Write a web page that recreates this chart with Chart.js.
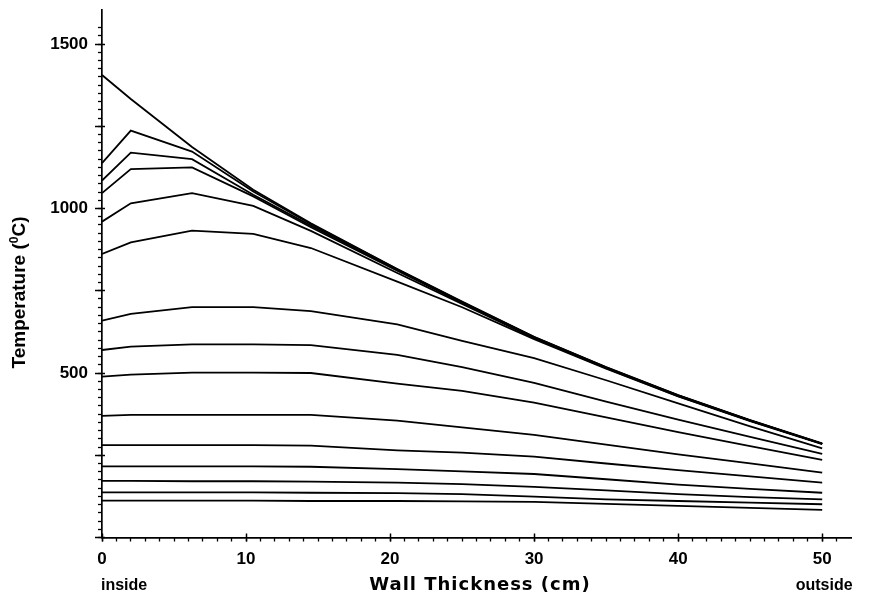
<!DOCTYPE html>
<html><head><meta charset="utf-8">
<script src="https://cdn.jsdelivr.net/npm/chart.js@4.4.0/dist/chart.umd.min.js"></script>
<style>html,body{margin:0;padding:0;background:#fff;}#c{display:block;}</style>
</head><body>
<canvas id="c" width="870" height="600"></canvas>
<script>
// ---- data ----
const wallThickness = [0, 2, 6.25, 10.5, 14.5, 20.5, 25, 30, 35, 40, 45, 50];
const profile01 = [1406, 1333, 1187, 1057, 955, 816, 717, 610, 518, 433, 357, 286];
const profile02 = [1138, 1237, 1173, 1052, 953, 815, 716, 609, 517, 432, 356, 285];
const profile03 = [1085, 1170, 1150, 1042, 948, 813, 715, 608, 516, 431, 355, 285];
const profile04 = [1047, 1120, 1125, 1037, 943, 811, 714, 608, 516, 431, 355, 285];
const profile05 = [960, 1016, 1047, 1008, 932, 804, 710, 606, 515, 430, 355, 285];
const profile06 = [862, 897, 933, 923, 880, 778, 700, 603, 513, 429, 354, 284];
const profile07 = [659, 680, 700, 700, 688, 648, 598, 545, 478, 408, 338, 271];
const profile08 = [570, 580, 587, 587, 585, 555, 518, 470, 413, 358, 306, 254];
const profile09 = [489, 495, 501, 501, 500, 468, 446, 410, 365, 320, 278, 236];
const profile10 = [370, 373, 373, 373, 373, 355, 335, 312, 282, 253, 225, 197];
const profile11 = [281, 281, 281, 281, 279, 265, 258, 246, 225, 205, 186, 167];
const profile12 = [216, 216, 216, 216, 215, 208, 201, 193, 177, 161, 148, 136];
const profile13 = [172, 172, 171, 171, 170, 167, 162, 154, 143, 132, 123, 116];
const profile14 = [137, 137, 137, 137, 136, 135, 132, 124, 116, 111, 106, 101];
const profile15 = [112, 112, 112, 112, 111, 111, 110, 108, 102, 96, 90, 84];
const xTickLabels = [0, 10, 20, 30, 40, 50];
const yTickLabels = [500, 1000, 1500];
const edgeLabels = ['inside', 'outside'];
const xTitle = 'Wall Thickness (cm)';
const yTitleParts = ['Temperature (', '0', 'C)'];

const profiles = [profile01, profile02, profile03, profile04, profile05, profile06, profile07,
  profile08, profile09, profile10, profile11, profile12, profile13, profile14, profile15];

const FONT = '"Liberation Sans", Arial, sans-serif';
const WIDE = '"DejaVu Sans", sans-serif';

const datasets = profiles.map((p, i) => ({
  label: 'Profile ' + (i + 1),
  data: wallThickness.map((x, j) => ({x: x, y: p[j]})),
  borderColor: '#000',
  borderWidth: 1.8,
  pointRadius: 0,
  tension: 0,
  fill: false
}));

const extraText = {
  id: 'extraText',
  afterDraw(chart) {
    const ctx = chart.ctx;
    const xs = chart.scales.x;
    ctx.save();
    ctx.fillStyle = '#000';
    ctx.font = 'bold 16px ' + FONT;
    ctx.textBaseline = 'alphabetic';
    ctx.textAlign = 'left';
    ctx.fillText(edgeLabels[0], xs.getPixelForValue(0) - 1, 590);
    ctx.textAlign = 'center';
    ctx.fillText(edgeLabels[1], xs.getPixelForValue(50) + 2, 590);
    // x axis title
    ctx.font = 'bold 18px ' + WIDE;
    ctx.letterSpacing = '1px';
    ctx.textAlign = 'left';
    const tw = ctx.measureText(xTitle).width;
    ctx.fillText(xTitle, 480 - tw / 2, 590);
    ctx.letterSpacing = '0px';
    // rotated y title with superscript
    ctx.translate(25, 292.5);
    ctx.rotate(-Math.PI / 2);
    ctx.textAlign = 'left';
    const big = 'bold 19px ' + FONT, small = 'bold 12px ' + FONT;
    ctx.font = big; const w1 = ctx.measureText(yTitleParts[0]).width;
    ctx.font = small; const w2 = ctx.measureText(yTitleParts[1]).width;
    ctx.font = big; const w3 = ctx.measureText(yTitleParts[2]).width;
    let x0 = -(w1 + w2 + w3) / 2;
    ctx.font = big; ctx.fillText(yTitleParts[0], x0, 0);
    ctx.font = small; ctx.fillText(yTitleParts[1], x0 + w1, -7);
    ctx.font = big; ctx.fillText(yTitleParts[2], x0 + w1 + w2, 0);
    ctx.restore();
  }
};

const YMIN = 0, YMAX = 1605, XMIN = 0, XMAX = 52;
const hideAbove = (lim) => (c) => (c.tick && c.tick.value > lim ? 'rgba(0,0,0,0)' : '#000');
const noPad = (s) => { s.paddingTop = 0; s.paddingBottom = 0; s.paddingLeft = 0; s.paddingRight = 0; };

new Chart(document.getElementById('c'), {
  type: 'line',
  data: {datasets},
  plugins: [extraText],
  options: {
    responsive: false,
    devicePixelRatio: 1,
    animation: false,
    layout: {padding: {top: 9.5, right: 19, left: 0, bottom: 0}},
    plugins: {legend: {display: false}, tooltip: {enabled: false}},
    scales: {
      x: {
        type: 'linear', position: 'bottom', weight: 10, min: XMIN, max: XMAX,
        afterFit(s) { s.height = 62.5; noPad(s); },
        border: {display: true, color: '#000', width: 1.7},
        grid: {drawOnChartArea: false, drawTicks: true, tickLength: 4, tickColor: '#000', tickWidth: 1.5},
        ticks: {
          stepSize: 10, includeBounds: false, autoSkip: false, maxRotation: 0, padding: 8,
          color: '#000', font: {family: FONT, size: 17, weight: 'bold'},
          callback: (v) => (xTickLabels.includes(v) ? String(v) : '')
        },
        title: {display: false}
      },
      xMinor: {
        type: 'linear', position: 'bottom', weight: 0, min: XMIN, max: XMAX,
        afterFit(s) { s.height = 0; noPad(s); },
        border: {display: false},
        grid: {drawOnChartArea: false, drawTicks: true, tickLength: 4, tickColor: hideAbove(51), tickWidth: 1.3},
        ticks: {display: false, stepSize: 1, includeBounds: false, autoSkip: false}
      },
      xIn: {
        type: 'linear', position: 'bottom', weight: 0, min: XMIN, max: XMAX,
        afterFit(s) { s.height = 0; noPad(s); },
        border: {display: false},
        grid: {drawOnChartArea: false, drawTicks: true, tickLength: -4, tickColor: '#000', tickWidth: 1.5},
        ticks: {display: false, stepSize: 10, includeBounds: false, autoSkip: false}
      },
      y: {
        type: 'linear', position: 'left', weight: 10, min: YMIN, max: YMAX,
        afterFit(s) { s.width = 102; noPad(s); },
        border: {display: true, color: '#000', width: 1.7},
        grid: {drawOnChartArea: false, drawTicks: true, tickLength: 7, tickColor: '#000', tickWidth: 1.5},
        ticks: {
          stepSize: 250, includeBounds: false, autoSkip: false, padding: 7,
          color: '#000', font: {family: FONT, size: 17, weight: 'bold'},
          callback: (v) => (yTickLabels.includes(v) ? String(v) : '')
        }
      },
      yMinor: {
        type: 'linear', position: 'left', weight: 0, min: YMIN, max: YMAX,
        afterFit(s) { s.width = 0; noPad(s); },
        border: {display: false},
        grid: {drawOnChartArea: false, drawTicks: true, tickLength: 4, tickColor: hideAbove(1550), tickWidth: 1.3},
        ticks: {display: false, stepSize: 25, includeBounds: false, autoSkip: false}
      },
      yIn: {
        type: 'linear', position: 'left', weight: 0, min: YMIN, max: YMAX,
        afterFit(s) { s.width = 0; noPad(s); },
        border: {display: false},
        grid: {drawOnChartArea: false, drawTicks: true, tickLength: -3, tickColor: '#000', tickWidth: 1.5},
        ticks: {display: false, stepSize: 250, includeBounds: false, autoSkip: false}
      }
    }
  }
});
</script>
</body></html>
